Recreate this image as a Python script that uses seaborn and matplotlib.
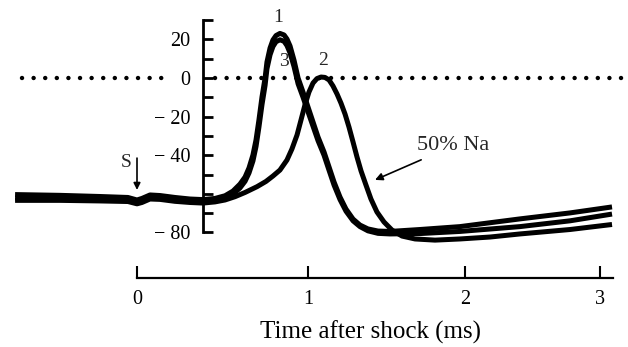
import numpy as np
import pandas as pd
import matplotlib
matplotlib.use("Agg")
import matplotlib.pyplot as plt
import seaborn as sns

# Membrane potential (mV) against time after the shock (ms).
# Records 1 and 3: normal sea water; record 2: 50% Na.
t_normal = [-0.713, -0.450, -0.216, -0.053, 0.000, 0.029, 0.076, 0.135, 0.222,
            0.310, 0.386, 0.456,
            0.515, 0.561, 0.602, 0.632, 0.655, 0.678, 0.696, 0.713, 0.731, 0.749,
            0.760, 0.778, 0.795, 0.813, 0.836, 0.860, 0.877, 0.895, 0.918, 0.942,
            0.971, 1.000, 1.032, 1.064, 1.102, 1.134, 1.166, 1.204, 1.242, 1.287,
            1.331, 1.382, 1.446, 1.522, 1.713, 1.968, 2.407, 2.778, 3.089]
v_record1 = [-60.4, -60.8, -61.4, -61.9, -63.2, -62.4, -60.6, -60.9, -61.9,
             -62.7, -63.0, -62.4,
             -61.0, -58.6, -55.0, -51.3, -46.6, -39.9, -32.1, -21.8, -9.8, 0.0,
             8.3, 15.5, 19.7, 22.0, 23.1, 22.3, 20.2, 16.6, 9.3, 0.0,
             -7.3, -15.0, -22.8, -30.6, -38.3, -46.1, -53.9, -61.7, -67.9, -73.1,
             -76.2, -78.2, -79.3, -79.5, -78.5, -77.0, -73.0, -69.9, -66.8]
v_record3 = [-62.2, -62.4, -62.7, -63.0, -64.2, -63.5, -61.7, -61.9, -62.9,
             -63.7, -64.0, -63.5,
             -62.3, -60.2, -57.0, -53.5, -49.2, -43.0, -35.5, -25.5, -13.8, -3.8,
             4.8, 12.0, 16.3, 18.8, 19.8, 19.0, 16.8, 13.0, 6.0, -3.0,
             -10.0, -17.5, -25.0, -32.5, -40.0, -47.8, -55.5, -63.0, -69.0, -74.0,
             -77.0, -79.2, -80.5, -80.8, -80.6, -79.5, -77.0, -74.0, -70.5]
t_low_na = [-0.713, -0.450, -0.216, -0.053, 0.000, 0.029, 0.076, 0.135, 0.222,
            0.310, 0.386, 0.456,
            0.515, 0.573, 0.632, 0.702, 0.754, 0.795, 0.836, 0.877, 0.906, 0.936,
            0.959, 0.982, 1.006, 1.032, 1.057, 1.083, 1.108, 1.134, 1.159, 1.185,
            1.210, 1.236, 1.261, 1.287, 1.312, 1.338, 1.369, 1.401, 1.439, 1.484,
            1.535, 1.599, 1.682, 1.809, 1.968, 2.185, 2.407, 2.778, 3.089]
v_record2 = [-63.4, -63.4, -63.7, -64.0, -65.2, -64.5, -62.7, -62.9, -63.9,
             -64.5, -64.8, -64.2,
             -63.2, -61.5, -59.3, -56.3, -53.6, -50.8, -47.7, -42.5, -36.8, -29.5,
             -21.8, -14.0, -7.3, -2.6, -0.3, 0.5, 0.3, -1.0, -4.1, -8.3,
             -13.0, -18.7, -25.4, -33.2, -40.9, -48.2, -55.4, -62.7, -69.4, -74.6,
             -78.8, -81.9, -83.4, -84.0, -83.4, -82.4, -80.8, -78.5, -75.9]

x_ticks = [0, 1, 2, 3]
y_ticks = list(range(-80, 31, 10))
y_tick_text = {20: "20", 0: "0", -20: "\u2212 20", -40: "\u2212 40", -80: "\u2212 80"}

# The time axis has unequal spacing between whole milliseconds, so it is
# drawn with a piecewise-linear scale (ms -> pixel column).
AXIS_MS = [-5.0, 0.0, 1.0, 2.0, 3.0, 8.0]
AXIS_PX = [137 - 5 * 171, 137, 308, 465, 600, 600 + 5 * 135]


def to_px(x):
    return np.interp(x, AXIS_MS, AXIS_PX)


def to_ms(p):
    return np.interp(p, AXIS_PX, AXIS_MS)


MV_PER_PX = 1 / 1.93
W, H = 628, 347

df = pd.concat([
    pd.DataFrame({"t": t_normal, "v": v_record1, "record": "1"}),
    pd.DataFrame({"t": t_normal, "v": v_record3, "record": "3"}),
    pd.DataFrame({"t": t_low_na, "v": v_record2, "record": "2"}),
], ignore_index=True)

sns.set_theme(style="white")
plt.rcParams["font.family"] = ["Liberation Serif", "DejaVu Serif"]

fig = plt.figure(figsize=(W / 100, H / 100), dpi=100)
ax = fig.add_axes([0, 0, 1, 1])
ax.set_xscale("function", functions=(to_px, to_ms))
ax.set_xlim(to_ms(0), to_ms(W))
ax.set_ylim(-(H - 78) * MV_PER_PX, 78 * MV_PER_PX)

# zero-potential reference, broken around the "0" label
dot_style = dict(color="black", lw=3.2, ls=(0, (0.01, 2.6)),
                 dash_capstyle="round", zorder=1)
ax.axhline(0, xmin=22 / W, xmax=171 / W, **dot_style)
ax.axhline(0, xmin=215 / W, xmax=1, **dot_style)

sns.lineplot(data=df, x="t", y="v", units="record", estimator=None, sort=False,
             color="black", lw=3.6, solid_capstyle="butt",
             solid_joinstyle="round", ax=ax, legend=False, zorder=3)

# axes drawn as free-standing scale bars
for side in ("top", "right"):
    ax.spines[side].set_visible(False)
ax.spines["left"].set_position(("data", float(to_ms(203))))
ax.spines["left"].set_bounds(-80, 30)
ax.spines["left"].set_linewidth(2.0)
ax.spines["bottom"].set_position(("data", -(278 - 78) * MV_PER_PX))
ax.spines["bottom"].set_bounds(0, float(to_ms(613)))
ax.spines["bottom"].set_linewidth(1.6)
for s in ("left", "bottom"):
    ax.spines[s].set_color("black")

ax.set_yticks(y_ticks)
ax.set_yticklabels([y_tick_text.get(v, "") for v in y_ticks])
ax.set_xticks(x_ticks)
ax.set_xticklabels([str(v) for v in x_ticks])
ax.tick_params(axis="y", direction="in", length=7, width=2.0, pad=9,
               labelsize=14.5, colors="black", left=True)
ax.tick_params(axis="x", direction="in", length=9, width=1.5, pad=9,
               labelsize=14.5, colors="black", bottom=True)
ax.minorticks_off()

ax.set_ylabel("")
ax.set_xlabel("Time after shock (ms)", fontsize=18, color="black")
ax.xaxis.set_label_coords(371 / W, 1 - 332 / H)
ax.xaxis.label.set_va("center")

# record numbers
ax.text(0.825, 31.6, "1", fontsize=14, ha="center", va="center")
ax.text(0.862, 8.3, "3", fontsize=14, ha="center", va="center")
ax.text(1.096, 9.3, "2", fontsize=14, ha="center", va="center")

# stimulus marker
ax.annotate("", xy=(0.0, -58.0), xytext=(0.0, -41.5),
            arrowprops=dict(arrowstyle="-|>", color="black", lw=1.2,
                            mutation_scale=10, shrinkA=0, shrinkB=0))
ax.text(-0.064, -44.0, "S", fontsize=14, ha="center", va="center")

# condition label for record 2
ax.annotate("50% Na", xy=(1.427, -52.8), xytext=(1.694, -35.2),
            fontsize=16, ha="left", va="center",
            arrowprops=dict(arrowstyle="-|>", color="black", lw=1.2,
                            mutation_scale=11, shrinkA=2, shrinkB=0))

fig.savefig("out.png", dpi=100, facecolor="white")
